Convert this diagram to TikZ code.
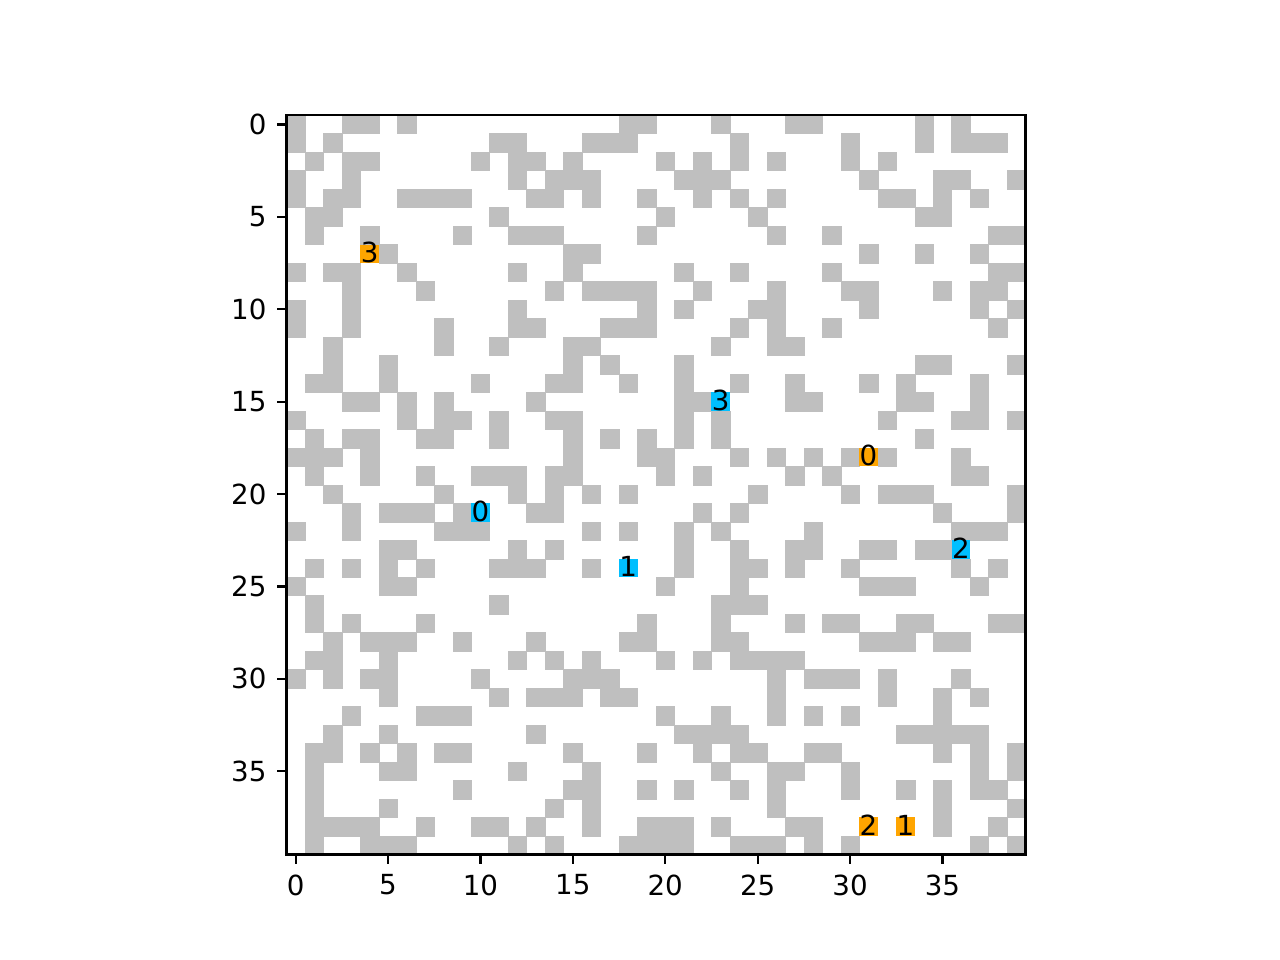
\documentclass[tikz,border=0pt]{standalone}
\usepackage{fontspec}
\setmainfont{DejaVu Sans}
\definecolor{wallgray}{HTML}{BFBFBF}
\definecolor{agentorange}{HTML}{FFA500}
\definecolor{goalblue}{HTML}{00BFFF}
\tikzset{
  wall/.style={fill=wallgray, draw=wallgray, line width=0.15pt},
  startcell/.style={fill=agentorange},
  goalcell/.style={fill=goalblue},
  celllab/.style={inner sep=0pt, font=\fontsize{10}{12}\selectfont, text=black},
  ticklab/.style={inner sep=0pt, font=\fontsize{10}{12}\selectfont, text=black},
  tickmark/.style={line width=0.8pt, black},
  spine/.style={line width=0.8pt, black}
}
\begin{document}
\begin{tikzpicture}[x=0.0127cm,y=-0.0127cm]
\useasboundingbox (0,0) rectangle (1280,960);
\def\X{286.4}\def\Y{115.2}\def\S{18.48}
% gray walls
\foreach \r/\cl in {
0/{0,3,4,6,18,19,23,27,28,34,36},
1/{0,2,11,12,16,17,18,24,30,34,36,37,38},
2/{1,3,4,10,12,13,15,20,22,24,26,30,32},
3/{0,3,12,14,15,16,21,22,23,31,35,36,39},
4/{0,2,3,6,7,8,9,13,14,16,19,22,24,26,32,33,35,37},
5/{1,2,11,20,25,34,35},
6/{1,4,9,12,13,14,19,26,29,38,39},
7/{5,15,16,31,34,37},
8/{0,2,3,6,12,15,21,24,29,38,39},
9/{3,7,14,16,17,18,19,22,26,30,31,35,37,38},
10/{0,3,12,19,21,25,26,31,37,39},
11/{0,3,8,12,13,17,18,19,24,26,29,38},
12/{2,8,11,15,16,23,26,27},
13/{2,5,15,17,21,34,35,39},
14/{1,2,5,10,14,15,18,21,24,27,31,33,37},
15/{3,4,6,8,13,21,22,27,28,33,34,37},
16/{0,6,8,9,11,14,15,21,23,32,36,37,39},
17/{1,3,4,7,8,11,15,17,19,21,23,34},
18/{0,1,2,4,15,19,20,24,26,28,30,32,36},
19/{1,4,7,10,11,12,14,15,20,22,27,29,36,37},
20/{2,8,12,14,16,18,25,30,32,33,34,39},
21/{3,5,6,7,9,13,14,22,24,35,39},
22/{0,3,8,9,10,16,18,21,23,28,36,37,38},
23/{5,6,12,14,21,24,27,28,31,32,34,35},
24/{1,3,5,7,11,12,13,16,21,24,25,27,30,36,38},
25/{0,5,6,20,24,31,32,33,37},
26/{1,11,23,24,25},
27/{1,3,7,19,23,27,29,30,33,34,38,39},
28/{2,4,5,6,9,13,18,19,23,24,31,32,33,35,36},
29/{1,2,5,12,14,16,20,22,24,25,26,27},
30/{0,2,4,5,10,15,16,17,26,28,29,30,32,36},
31/{5,11,13,14,15,17,18,26,32,35,37},
32/{3,7,8,9,20,23,26,28,30,35},
33/{2,5,13,21,22,23,24,33,34,35,36,37},
34/{1,2,4,6,8,9,15,19,22,24,25,28,29,35,37,39},
35/{1,5,6,12,16,23,26,27,30,37,39},
36/{1,9,15,16,19,21,24,26,30,33,35,37,38},
37/{1,5,14,16,26,35,39},
38/{1,2,3,4,7,10,11,13,16,19,20,21,23,27,28,35,38},
39/{1,4,5,6,12,14,18,19,20,21,24,25,26,28,30,37,39}}{
  \foreach \c in \cl {
    \path[wall] ({\X+\c*\S},{\Y+\r*\S}) rectangle ++(\S,\S);
  }
}
% start (orange) and goal (blue) cells with labels
\foreach \r/\c/\t/\nm in {7/4/3/s3, 18/31/0/s0, 38/31/2/s2, 38/33/1/s1}{
  \fill[startcell] ({\X+\c*\S},{\Y+\r*\S}) rectangle ++(\S,\S);
  \node[celllab] (\nm) at ({\X+(\c+0.5)*\S},{\Y+(\r+0.5)*\S-1.5}) {\t};
}
\foreach \r/\c/\t/\nm in {21/10/0/g0, 24/18/1/g1, 23/36/2/g2, 15/23/3/g3}{
  \fill[goalcell] ({\X+\c*\S},{\Y+\r*\S}) rectangle ++(\S,\S);
  \node[celllab] (\nm) at ({\X+(\c+0.5)*\S},{\Y+(\r+0.5)*\S-1.5}) {\t};
}
% axes frame
\draw[spine] (\X,\Y) rectangle ({\X+40*\S},{\Y+40*\S});
% ticks
\foreach \v in {0,5,...,35}{
  \draw[tickmark] ({\X+(\v+0.5)*\S},{\Y+40*\S}) -- ++(0,9.7);
  \node[ticklab, anchor=north] (xt\v) at ({\X+(\v+0.5)*\S},{\Y+40*\S+19.6}) {\v};
  \draw[tickmark] (\X,{\Y+(\v+0.5)*\S}) -- ++(-9.7,0);
  \node[ticklab, anchor=east] (yt\v) at ({\X-19.4},{\Y+(\v+0.5)*\S}) {\v};
}
\end{tikzpicture}
\end{document}
